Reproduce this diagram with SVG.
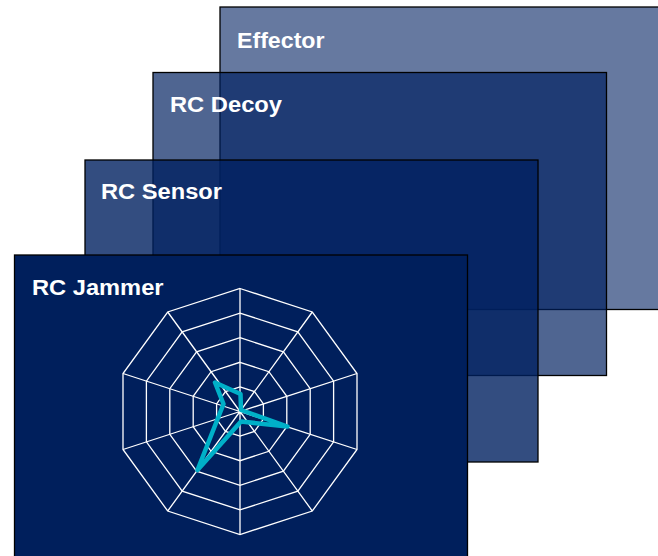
<svg xmlns="http://www.w3.org/2000/svg" width="658" height="556" viewBox="0 0 658 556">
  <style>
    .card { stroke: #000000; stroke-width: 1.3; }
    .lbl { font-family: "Liberation Sans", Arial, sans-serif; font-weight: bold; font-size: 22.5px; fill: #ffffff; }
    .grid { fill: none; stroke: #ffffff; stroke-width: 1.3; }
    .data { fill: none; stroke: #00b0c8; stroke-width: 4.5; stroke-linejoin: round; }
  </style>
  <rect width="658" height="556" fill="#ffffff"/>
  <g id="effector">
    <rect class="card" x="220" y="7" width="453" height="302.5" fill="#002060" fill-opacity="0.6"/>
    <text class="lbl" x="237" y="48" textLength="87.5" lengthAdjust="spacingAndGlyphs">Effector</text>
  </g>
  <g id="rc-decoy">
    <rect class="card" x="153" y="72.5" width="453.5" height="303" fill="#002060" fill-opacity="0.69"/>
    <text class="lbl" x="170" y="111.8" textLength="112" lengthAdjust="spacingAndGlyphs">RC Decoy</text>
  </g>
  <g id="rc-sensor">
    <rect class="card" x="85" y="160" width="453" height="302" fill="#002060" fill-opacity="0.8"/>
    <text class="lbl" x="101" y="199" textLength="121" lengthAdjust="spacingAndGlyphs">RC Sensor</text>
  </g>
  <g id="rc-jammer">
    <rect class="card" x="14.5" y="255" width="453" height="302" fill="#001f5c"/>
    <text class="lbl" x="32" y="295" textLength="131.5" lengthAdjust="spacingAndGlyphs">RC Jammer</text>
    <g id="radar">
      <polygon class="grid" points="240,288.5 312.3,312 357,373.5 357,449.5 312.3,511 240,534.5 167.7,511 123,449.5 123,373.5 167.7,312"/>
      <polygon class="grid" points="240,313.1 297.8,331.9 333.6,381.1 333.6,441.9 297.8,491.1 240,509.9 182.2,491.1 146.4,441.9 146.4,381.1 182.2,331.9"/>
      <polygon class="grid" points="240,337.7 283.4,351.8 310.2,388.7 310.2,434.3 283.4,471.2 240,485.3 196.6,471.2 169.8,434.3 169.8,388.7 196.6,351.8"/>
      <polygon class="grid" points="240,362.3 268.9,371.7 286.8,396.3 286.8,426.7 268.9,451.3 240,460.7 211.1,451.3 193.2,426.7 193.2,396.3 211.1,371.7"/>
      <polygon class="grid" points="240,386.9 254.5,391.6 263.4,403.9 263.4,419.1 254.5,431.4 240,436.1 225.5,431.4 216.6,419.1 216.6,403.9 225.5,391.6"/>
      <path class="grid" d="M240,411.5 L240,288.5 M240,411.5 L312.3,312 M240,411.5 L357,373.5 M240,411.5 L357,449.5 M240,411.5 L312.3,511 M240,411.5 L240,534.5 M240,411.5 L167.7,511 M240,411.5 L123,449.5 M240,411.5 L123,373.5 M240,411.5 L167.7,312"/>
      <polygon class="data" points="215,382.5 240.5,394 241,410 287.5,426.5 241,421.5 197.5,470 223.5,404"/>
    </g>
  </g>
  <g id="connectors"/>
</svg>
